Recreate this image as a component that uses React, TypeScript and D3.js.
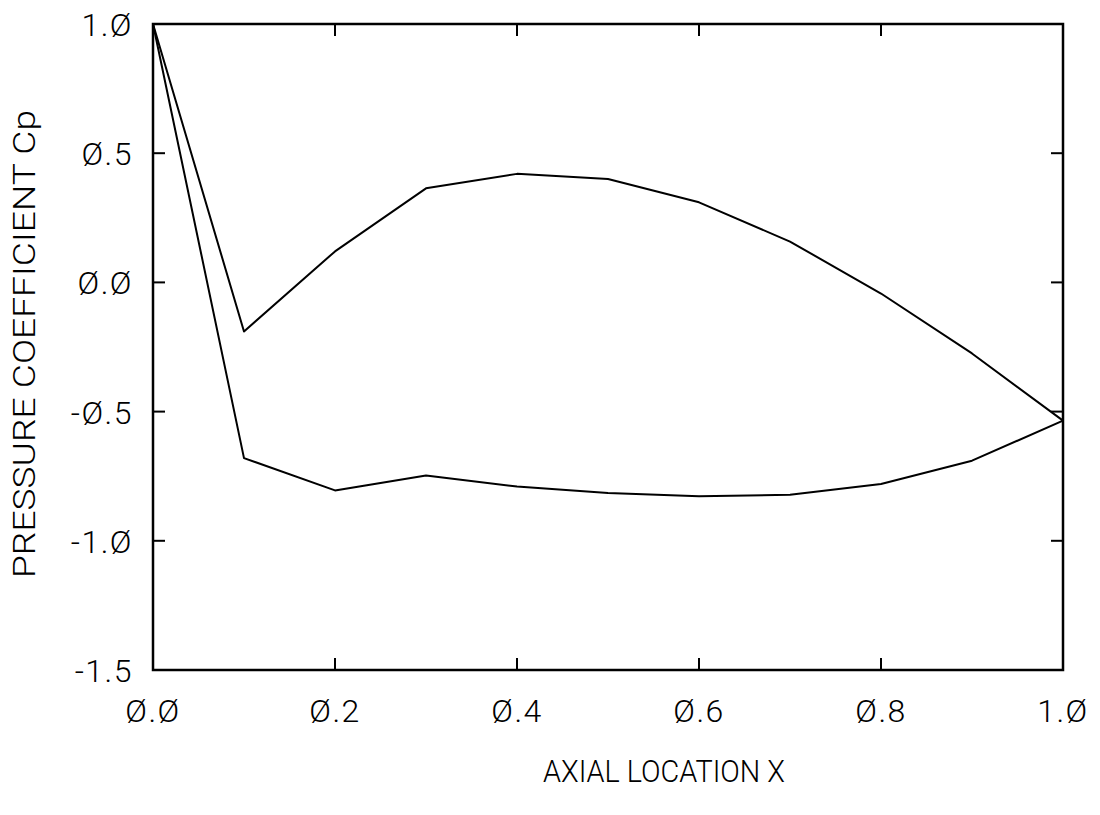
import React, { useEffect, useRef } from "react";
import * as d3 from "d3";

const xValues = [0.0, 0.1, 0.2, 0.3, 0.4, 0.5, 0.6, 0.7, 0.8, 0.9, 1.0];
const upperCp = [1.0, -0.19, 0.12, 0.364, 0.42, 0.40, 0.31, 0.158, -0.043, -0.275, -0.535];
const lowerCp = [1.0, -0.68, -0.805, -0.747, -0.79, -0.815, -0.828, -0.822, -0.78, -0.69, -0.535];
const xTicks = [0.0, 0.2, 0.4, 0.6, 0.8, 1.0];
const yTicks = [-1.5, -1.0, -0.5, 0.0, 0.5, 1.0];
const xTitle = "AXIAL LOCATION X";
const yTitle = "PRESSURE COEFFICIENT Cp";

const fmt = (v: number) => v.toFixed(1).replace(/0/g, "Ø");

export default function App() {
  const ref = useRef<SVGSVGElement>(null);
  useEffect(() => {
    const svg = d3.select(ref.current);
    svg.selectAll("*").remove();
    const W = 1100, H = 815;
    const left = 153, right = 1063, top = 24, bottom = 670;
    const x = d3.scaleLinear().domain([0, 1]).range([left, right]);
    const y = d3.scaleLinear().domain([-1.5, 1.0]).range([bottom, top]);
    const font = "Roboto, 'DejaVu Sans', sans-serif";

    svg.append("rect").attr("width", W).attr("height", H).attr("fill", "white");

    svg.append("rect")
      .attr("x", left).attr("y", top)
      .attr("width", right - left).attr("height", bottom - top)
      .attr("fill", "none").attr("stroke", "black").attr("stroke-width", 2.5);

    const tl = 12;
    xTicks.slice(1, -1).forEach((t) => {
      svg.append("line").attr("x1", x(t)).attr("x2", x(t)).attr("y1", bottom).attr("y2", bottom - tl)
        .attr("stroke", "black").attr("stroke-width", 2);
      svg.append("line").attr("x1", x(t)).attr("x2", x(t)).attr("y1", top).attr("y2", top + tl)
        .attr("stroke", "black").attr("stroke-width", 2);
    });
    yTicks.slice(1, -1).forEach((t) => {
      svg.append("line").attr("x1", left).attr("x2", left + tl).attr("y1", y(t)).attr("y2", y(t))
        .attr("stroke", "black").attr("stroke-width", 2);
      svg.append("line").attr("x1", right).attr("x2", right - tl).attr("y1", y(t)).attr("y2", y(t))
        .attr("stroke", "black").attr("stroke-width", 2);
    });

    xTicks.forEach((t) => {
      svg.append("text").attr("x", x(t)).attr("y", 722)
        .attr("text-anchor", "middle").attr("font-family", font).attr("font-weight", 300)
        .attr("font-size", 32).attr("letter-spacing", 1.5).attr("fill", "black")
        .text(fmt(t));
    });
    yTicks.forEach((t) => {
      svg.append("text").attr("x", 133).attr("y", y(t) + 12)
        .attr("text-anchor", "end").attr("font-family", font).attr("font-weight", 300)
        .attr("font-size", 32).attr("letter-spacing", 1.5).attr("fill", "black")
        .text(fmt(t));
    });

    svg.append("text").attr("x", 543).attr("y", 782)
      .attr("text-anchor", "start").attr("font-family", font).attr("font-weight", 300)
      .attr("font-size", 32).attr("textLength", 242).attr("lengthAdjust", "spacingAndGlyphs")
      .attr("fill", "black")
      .text(xTitle);
    svg.append("text")
      .attr("transform", `translate(35,578) rotate(-90)`)
      .attr("text-anchor", "start").attr("font-family", font).attr("font-weight", 300)
      .attr("font-size", 32).attr("textLength", 468).attr("lengthAdjust", "spacingAndGlyphs")
      .attr("fill", "black")
      .text(yTitle);

    const line = d3.line<number>().x((_, i) => x(xValues[i])).y((d) => y(d));
    [upperCp, lowerCp].forEach((s) => {
      svg.append("path").attr("d", line(s) as string)
        .attr("fill", "none").attr("stroke", "black").attr("stroke-width", 2)
        .attr("stroke-linejoin", "round");
    });
  }, []);
  return (
    <svg ref={ref} width={1100} height={815}
      style={{ position: "absolute", left: 0, top: 0, display: "block" }} />
  );
}
